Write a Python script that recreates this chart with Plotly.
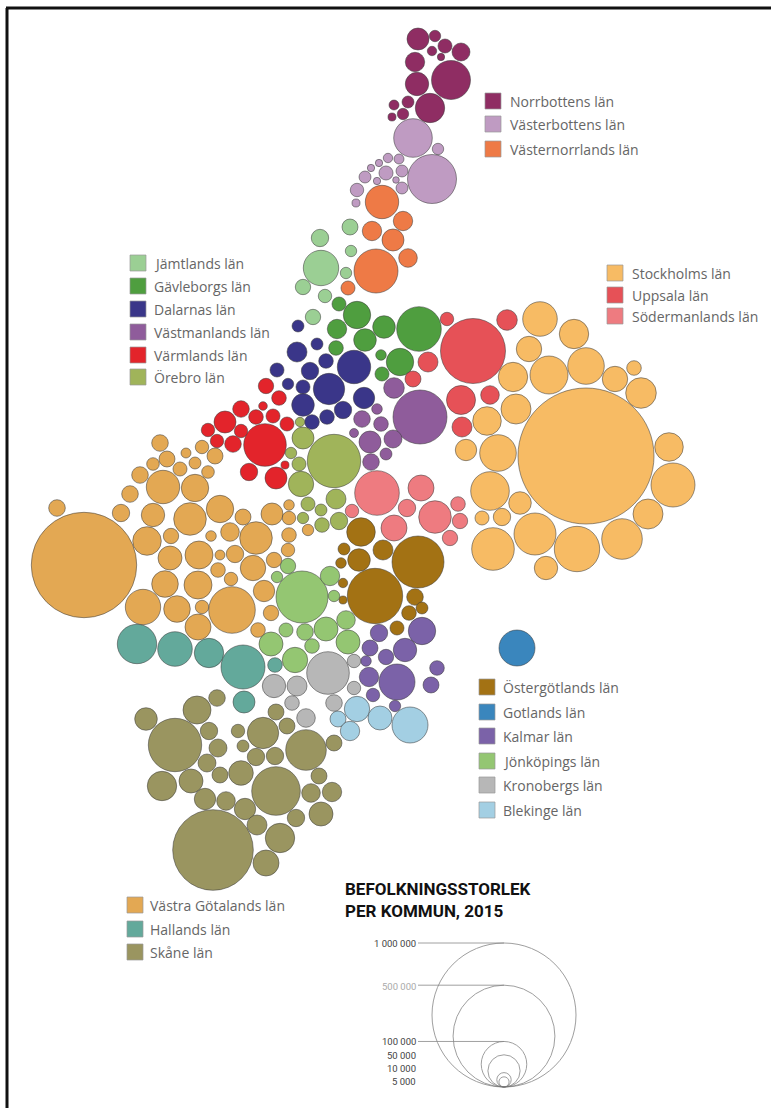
import numpy as np
import plotly.graph_objects as go

# Each kommun: cartogram x, cartogram y, population in thousands
norrbotten_x = [418, 435, 445, 432, 461, 441, 415, 451, 417, 408, 430, 394, 403, 392]
norrbotten_y = [39, 36, 46, 51, 52, 57, 62, 80, 84, 102, 108, 105, 114, 117]
norrbotten_pop = [23.3, 6.3, 9.5, 4.3, 15.6, 2.6, 18.2, 73.3, 26.4, 6.9, 41.7, 4.8, 6.3, 3.1]

vasterbotten_x = [413, 438, 432, 402, 399, 388, 379, 371, 386, 365, 377, 396, 402, 357, 356]
vasterbotten_y = [138, 149, 179, 171, 159, 158, 163, 168, 173, 177, 181, 180, 188, 190, 203]
vasterbotten_pop = [71.9, 6.3, 115.8, 6.9, 4.8, 4.3, 2.6, 2.6, 9.5, 6.9, 2.6, 2.1, 6.9, 8.7, 3.1]

vasternorrland_x = [382, 403, 372, 393, 408, 376, 348]
vasternorrland_y = [202, 221, 231, 240, 258, 271, 288]
vasternorrland_pop = [53.8, 18.2, 18.2, 23.3, 16.7, 93.4, 9.5]

jamtland_x = [350, 320, 321, 351, 346, 303, 325, 313]
jamtland_y = [227, 238, 268, 251, 273, 287, 296, 317]
jamtland_pop = [12.3, 14.6, 60.4, 6.3, 6.3, 11.4, 8.7, 11.4]

gavleborg_x = [339, 357, 337, 384, 419, 365, 336, 381, 400, 382]
gavleborg_y = [304, 315, 329, 327, 329, 340, 348, 355, 362, 374]
gavleborg_pop = [9.5, 36.2, 18.2, 24.6, 95.9, 24.6, 10.3, 5.4, 36.2, 9.5]

dalarna_x = [298, 317, 297, 326, 354, 277, 310, 288, 303, 329, 364, 303, 343, 327, 312]
dalarna_y = [326, 344, 352, 361, 367, 370, 371, 384, 387, 389, 398, 405, 410, 417, 422]
dalarna_pop = [6.9, 6.9, 19.3, 10.3, 53.8, 9.5, 14.6, 6.3, 9.5, 47.5, 22.1, 24.6, 14.6, 10.3, 10.3]

uppsala_x = [447, 473, 507, 428, 413, 461, 490, 462]
uppsala_y = [319, 351, 320, 362, 379, 400, 395, 427]
uppsala_pop = [8.7, 203.7, 20.5, 19.3, 12.3, 40.6, 16.7, 19.3]

vastmanland_x = [394, 420, 377, 362, 381, 354, 370, 393, 386, 371]
vastmanland_y = [388, 417, 409, 419, 424, 433, 442, 439, 454, 462]
vastmanland_pop = [20.5, 140.6, 5.4, 13.3, 10.3, 3.9, 23.3, 15.6, 6.9, 13.3]

stockholm_x = [540, 574, 529, 586, 549, 513, 615, 634, 641, 516, 487, 466, 498, 586, 669, 673, 490, 520, 648, 482, 502, 535, 622, 577, 493, 546]
stockholm_y = [319, 334, 349, 366, 375, 377, 379, 368, 393, 409, 421, 450, 453, 456, 447, 485, 491, 503, 514, 518, 517, 534, 539, 549, 549, 568]
stockholm_pop = [57.7, 41.7, 31.1, 64.6, 69.6, 41.7, 31.1, 10.3, 45.2, 43.4, 39.4, 22.1, 64.6, 892, 39.4, 93.4, 71.9, 24.6, 43.4, 9.5, 14.6, 85.1, 79.5, 99.4, 87.5, 26.4]

sodermanland_x = [377, 421, 352, 407, 435, 458, 460, 394, 450]
sodermanland_y = [493, 488, 511, 508, 517, 504, 521, 528, 538]
sodermanland_pop = [95.9, 32.6, 8.7, 14.6, 51.3, 10.3, 11.4, 32.6, 11.4]

ostergotland_x = [361, 344, 383, 418, 359, 341, 343, 343, 375, 415, 409, 422, 397]
ostergotland_y = [532, 549, 550, 562, 560, 563, 583, 600, 596, 597, 613, 608, 628]
ostergotland_pop = [39.4, 6.9, 19.3, 130.4, 24.6, 5.4, 4.3, 3.1, 148, 13.3, 10.3, 6.9, 9.5]

gotland_x = [517]
gotland_y = [648]
gotland_pop = [62.5]

kalmar_x = [422, 379, 405, 370, 386, 366, 437, 431, 369, 397, 373, 395]
kalmar_y = [631, 633, 650, 648, 657, 661, 668, 685, 677, 682, 695, 706]
kalmar_pop = [36.2, 14.6, 26.4, 12.3, 11.4, 5.4, 10.3, 12.3, 18.2, 62.5, 8.7, 6.3]

jonkoping_x = [277, 288, 302, 330, 334, 286, 305, 326, 346, 348, 312, 271, 295]
jonkoping_y = [577, 566, 597, 576, 596, 630, 632, 629, 620, 642, 646, 644, 660]
jonkoping_pop = [6.3, 11.4, 130.4, 18.2, 6.3, 9.5, 13.3, 27.8, 16.7, 27.8, 10.3, 27.8, 31.1]

kronoberg_x = [328, 354, 274, 297, 354, 292, 334, 306]
kronoberg_y = [673, 661, 686, 686, 688, 703, 703, 718]
kronoberg_pop = [87.5, 8.7, 26.4, 19.3, 8.7, 10.3, 13.3, 16.7]

blekinge_x = [357, 380, 338, 350, 410]
blekinge_y = [709, 718, 719, 731, 725]
blekinge_pop = [31.1, 27.8, 12.3, 18.2, 62.5]

varmland_x = [265, 225, 241, 256, 273, 287, 263, 279, 266, 208, 241, 217, 233, 249, 276, 285]
varmland_y = [445, 422, 409, 417, 416, 424, 406, 398, 386, 430, 431, 441, 444, 472, 478, 465]
varmland_pop = [87.5, 23.3, 13.3, 10.3, 9.5, 9.5, 3.6, 10.3, 11.4, 8.7, 8.7, 8.7, 13.3, 14.6, 23.3, 3.1]

orebro_x = [300, 303, 334, 291, 299, 301, 336, 308, 321, 303, 322, 339]
orebro_y = [422, 438, 461, 453, 464, 484, 499, 504, 510, 518, 525, 521]
orebro_pop = [4.3, 23.3, 137.5, 6.3, 9.5, 31.1, 19.3, 9.5, 6.9, 6.3, 10.3, 14.6]

vastra_gotaland_x = [84, 57, 121, 130, 140, 160, 153, 167, 186, 202, 215, 195, 180, 208, 163, 195, 153, 190, 220, 243, 147, 171, 230, 211, 256, 272, 289, 289, 289, 288, 170, 199, 220, 235, 253, 274, 218, 231, 165, 198, 264, 143, 177, 202, 232, 271, 198, 258, 308]
vastra_gotaland_y = [565, 508, 513, 494, 475, 443, 464, 459, 453, 447, 456, 463, 469, 472, 487, 488, 515, 519, 509, 517, 541, 536, 532, 536, 538, 514, 505, 518, 535, 550, 558, 555, 555, 554, 568, 560, 570, 579, 584, 585, 591, 607, 609, 607, 610, 613, 627, 630, 530]
vastra_gotaland_pop = [535.7, 13.3, 14.6, 13.3, 13.3, 13.3, 7.7, 12.3, 4.8, 8.7, 12.3, 6.9, 9.5, 7.7, 53.8, 36.2, 26.4, 51.3, 36.2, 12.3, 39.4, 11.4, 16.7, 5.4, 51.3, 23.3, 5.4, 8.7, 10.3, 8.7, 27.8, 37.8, 4.8, 14.6, 31.1, 11.4, 10.3, 8.7, 34.1, 37.8, 22.1, 60.4, 34.1, 8.7, 104.7, 11.4, 32.6, 10.3, 6.3]

halland_x = [137, 175, 209, 243, 244, 275]
halland_y = [644, 649, 653, 667, 702, 665]
halland_pop = [74.9, 57.7, 41.7, 93.4, 23.3, 10.3]

skane_x = [217, 197, 146, 175, 209, 276, 263, 287, 238, 243, 218, 207, 256, 275, 306, 334, 220, 241, 276, 319, 162, 191, 311, 332, 205, 226, 245, 321, 296, 257, 280, 213, 266]
skane_y = [698, 710, 719, 745, 731, 712, 733, 726, 731, 746, 748, 763, 757, 756, 750, 743, 775, 773, 791, 776, 786, 781, 793, 792, 799, 801, 809, 814, 818, 825, 838, 850, 863]
skane_pop = [13.3, 37.8, 24.6, 137.5, 14.6, 12.3, 47.5, 12.3, 8.7, 6.9, 15.6, 15.6, 14.6, 14.6, 79.5, 12.3, 12.3, 29.2, 113.9, 12.3, 41.7, 27.8, 16.7, 18.2, 22.1, 16.7, 22.1, 27.8, 14.6, 19.3, 41.7, 313.3, 32.6]

counties = [
    ("Norrbottens län", norrbotten_x, norrbotten_y, norrbotten_pop, "#8f2d63"),
    ("Västerbottens län", vasterbotten_x, vasterbotten_y, vasterbotten_pop, "#bf9bc2"),
    ("Västernorrlands län", vasternorrland_x, vasternorrland_y, vasternorrland_pop, "#ee7a46"),
    ("Jämtlands län", jamtland_x, jamtland_y, jamtland_pop, "#9bcf94"),
    ("Gävleborgs län", gavleborg_x, gavleborg_y, gavleborg_pop, "#4f9e3f"),
    ("Dalarnas län", dalarna_x, dalarna_y, dalarna_pop, "#3a3689"),
    ("Västmanlands län", vastmanland_x, vastmanland_y, vastmanland_pop, "#8f5c9b"),
    ("Värmlands län", varmland_x, varmland_y, varmland_pop, "#e3242b"),
    ("Örebro län", orebro_x, orebro_y, orebro_pop, "#a0b45a"),
    ("Stockholms län", stockholm_x, stockholm_y, stockholm_pop, "#f7bb64"),
    ("Uppsala län", uppsala_x, uppsala_y, uppsala_pop, "#e65157"),
    ("Södermanlands län", sodermanland_x, sodermanland_y, sodermanland_pop, "#ee7b80"),
    ("Östergötlands län", ostergotland_x, ostergotland_y, ostergotland_pop, "#a37214"),
    ("Gotlands län", gotland_x, gotland_y, gotland_pop, "#3a86bd"),
    ("Kalmar län", kalmar_x, kalmar_y, kalmar_pop, "#7b62a8"),
    ("Jönköpings län", jonkoping_x, jonkoping_y, jonkoping_pop, "#94c672"),
    ("Kronobergs län", kronoberg_x, kronoberg_y, kronoberg_pop, "#b7b7b7"),
    ("Blekinge län", blekinge_x, blekinge_y, blekinge_pop, "#a3cfe3"),
    ("Västra Götalands län", vastra_gotaland_x, vastra_gotaland_y, vastra_gotaland_pop, "#e3a853"),
    ("Hallands län", halland_x, halland_y, halland_pop, "#63a99b"),
    ("Skåne län", skane_x, skane_y, skane_pop, "#9a9560"),
]

size_pops = [1000, 500, 100, 50, 10, 5]
size_labels = ["1 000 000", "500 000", "100 000", "50 000", "10 000", "5 000"]
size_label_colors = ["#444444", "#aaaaaa", "#444444", "#444444", "#444444", "#444444"]
size_label_y = [943, 986, 1041, 1055, 1068, 1081]

# legend groups: names, swatch x, text x, swatch y
legend_groups = [
    (["Norrbottens län", "Västerbottens län", "Västernorrlands län"], 493, 508, [101, 124, 149]),
    (["Jämtlands län", "Gävleborgs län", "Dalarnas län", "Västmanlands län", "Värmlands län", "Örebro län"],
     138, 152, [263, 286, 309, 332, 355, 377]),
    (["Stockholms län", "Uppsala län", "Södermanlands län"], 615, 630, [273, 295, 316]),
    (["Östergötlands län", "Gotlands län", "Kalmar län", "Jönköpings län", "Kronobergs län", "Blekinge län"],
     487, 501, [687, 712, 736, 761, 785, 810]),
    (["Västra Götalands län", "Hallands län", "Skåne län"], 135, 148, [905, 929, 952]),
]

R_MILLION = 72  # pixel radius of a kommun with 1 000 000 people
LEGEND_X = 504
LEGEND_BOTTOM = 1087
FONT = "Open Sans"


def radius(pop):
    return R_MILLION * np.sqrt(np.asarray(pop, dtype=float) / 1000)


fig = go.Figure()
colors = {}
for name, x, y, pop, color in counties:
    colors[name] = color
    fig.add_trace(go.Scatter(
        x=x, y=y, mode="markers", name=name,
        marker=dict(size=2 * radius(pop), sizemode="diameter", color=color,
                    opacity=1, line=dict(color="rgba(60,60,60,0.6)", width=0.9)),
        showlegend=False,
    ))

# size key
key_r = radius(size_pops)
fig.add_trace(go.Scatter(
    x=[LEGEND_X] * len(size_pops), y=LEGEND_BOTTOM - key_r, mode="markers",
    marker=dict(size=2 * key_r, color="rgba(0,0,0,0)", line=dict(color="#777777", width=1)),
    showlegend=False,
))
for r in key_r[:3]:
    fig.add_trace(go.Scatter(
        x=[418, LEGEND_X], y=[LEGEND_BOTTOM - 2 * r] * 2, mode="lines",
        line=dict(color="#888888", width=0.8), showlegend=False,
    ))

annotations = []
for label, color, y in zip(size_labels, size_label_colors, size_label_y):
    annotations.append(dict(
        x=417, y=y, text=label, xanchor="right", yanchor="middle", showarrow=False,
        borderpad=0, font=dict(family="Roboto", size=9.5, color=color),
    ))
annotations.append(dict(
    x=343, y=900, text="<b>BEFOLKNINGSSTORLEK<br>PER KOMMUN, 2015</b>", align="left",
    xanchor="left", yanchor="middle", showarrow=False,
    font=dict(family="Roboto", size=17, color="#111111"),
))

shapes = [
    dict(type="line", x0=6, x1=771, y0=8, y1=8, line=dict(color="#111111", width=3)),
    dict(type="line", x0=7, x1=7, y0=8, y1=1108, line=dict(color="#111111", width=3)),
]
for names, swatch_x, text_x, ys in legend_groups:
    for name, y in zip(names, ys):
        shapes.append(dict(
            type="rect", x0=swatch_x - 8, x1=swatch_x + 8, y0=y - 8, y1=y + 8,
            fillcolor=colors[name], line=dict(color="#999999", width=0.7),
        ))
        annotations.append(dict(
            x=text_x, y=y, text=name, xanchor="left", yanchor="middle", showarrow=False,
            font=dict(family=FONT, size=14, color="#666666"),
        ))

fig.update_layout(
    width=771, height=1108,
    margin=dict(l=0, r=0, t=0, b=0),
    paper_bgcolor="white", plot_bgcolor="white",
    xaxis=dict(range=[0, 771], visible=False, fixedrange=True),
    yaxis=dict(range=[1108, 0], visible=False, fixedrange=True),
    shapes=shapes, annotations=annotations,
    hovermode=False,
)
fig.write_html("out.html", config=dict(displayModeBar=False),
               post_script="document.body.style.margin='0';document.body.style.overflow='hidden';")
